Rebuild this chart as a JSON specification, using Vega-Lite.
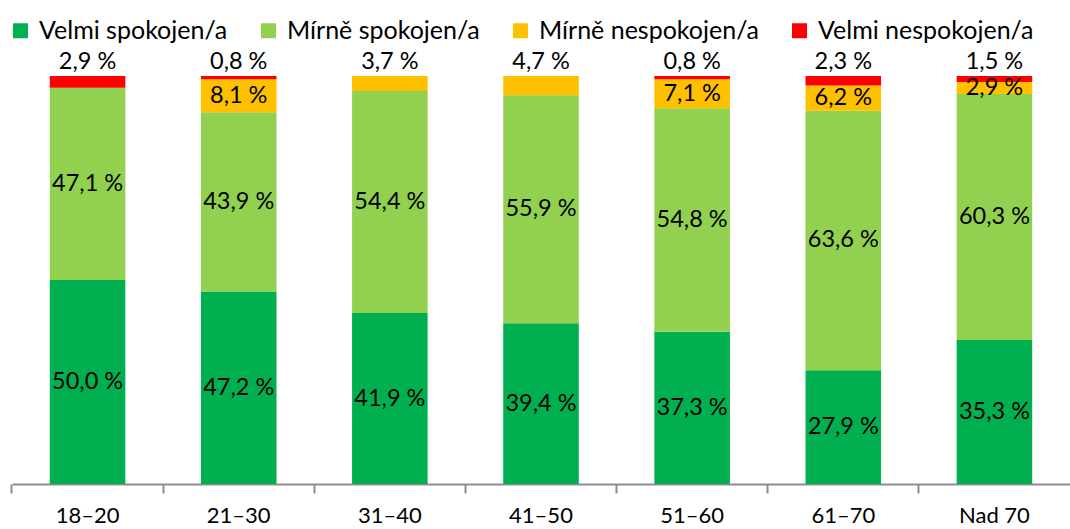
{
  "$schema": "https://vega.github.io/schema/vega-lite/v6.json",
  "width": 1058,
  "height": 408,
  "autosize": "none",
  "padding": {"left": 12, "top": 76, "right": 0, "bottom": 45},
  "background": "white",
  "config": {"view": {"stroke": null}, "font": "Lato", "legend": {"gridAlign": "each"}},
  "data": {
    "values": [
      {"vek": "18–20", "kat": "Velmi spokojen/a", "pct": 50.0},
      {"vek": "18–20", "kat": "Mírně spokojen/a", "pct": 47.1},
      {"vek": "18–20", "kat": "Velmi nespokojen/a", "pct": 2.9},
      {"vek": "21–30", "kat": "Velmi spokojen/a", "pct": 47.2},
      {"vek": "21–30", "kat": "Mírně spokojen/a", "pct": 43.9},
      {"vek": "21–30", "kat": "Mírně nespokojen/a", "pct": 8.1},
      {"vek": "21–30", "kat": "Velmi nespokojen/a", "pct": 0.8},
      {"vek": "31–40", "kat": "Velmi spokojen/a", "pct": 41.9},
      {"vek": "31–40", "kat": "Mírně spokojen/a", "pct": 54.4},
      {"vek": "31–40", "kat": "Mírně nespokojen/a", "pct": 3.7},
      {"vek": "41–50", "kat": "Velmi spokojen/a", "pct": 39.4},
      {"vek": "41–50", "kat": "Mírně spokojen/a", "pct": 55.9},
      {"vek": "41–50", "kat": "Mírně nespokojen/a", "pct": 4.7},
      {"vek": "51–60", "kat": "Velmi spokojen/a", "pct": 37.3},
      {"vek": "51–60", "kat": "Mírně spokojen/a", "pct": 54.8},
      {"vek": "51–60", "kat": "Mírně nespokojen/a", "pct": 7.1},
      {"vek": "51–60", "kat": "Velmi nespokojen/a", "pct": 0.8},
      {"vek": "61–70", "kat": "Velmi spokojen/a", "pct": 27.9},
      {"vek": "61–70", "kat": "Mírně spokojen/a", "pct": 63.6},
      {"vek": "61–70", "kat": "Mírně nespokojen/a", "pct": 6.2},
      {"vek": "61–70", "kat": "Velmi nespokojen/a", "pct": 2.3},
      {"vek": "Nad 70", "kat": "Velmi spokojen/a", "pct": 35.3},
      {"vek": "Nad 70", "kat": "Mírně spokojen/a", "pct": 60.3},
      {"vek": "Nad 70", "kat": "Mírně nespokojen/a", "pct": 2.9},
      {"vek": "Nad 70", "kat": "Velmi nespokojen/a", "pct": 1.5}
    ]
  },
  "transform": [
    {"calculate": "indexof(['Velmi spokojen/a','Mírně spokojen/a','Mírně nespokojen/a','Velmi nespokojen/a'], datum.kat)", "as": "poradi"},
    {"stack": "pct", "groupby": ["vek"], "sort": [{"field": "poradi", "order": "ascending"}], "as": ["y0", "y1"]},
    {"calculate": "(datum.y0 + datum.y1) / 2", "as": "ymid"},
    {"calculate": "replace(format(datum.pct, '.1f'), '.', ',') + ' %'", "as": "popis"},
    {"calculate": "datum.poradi == 3 || (datum.poradi == 2 && datum.y1 > 99.9) ? 1 : 0", "as": "nahore"}
  ],
  "encoding": {
    "x": {
      "field": "vek",
      "type": "nominal",
      "sort": null,
      "scale": {"paddingInner": 0.5, "paddingOuter": 0.25},
      "axis": {
        "title": null,
        "labelAngle": 0,
        "labelFontSize": 22,
        "labelColor": "black",
        "labelPadding": 12,
        "domainColor": "#8c8c8c",
        "domainWidth": 2,
        "tickColor": "#8c8c8c",
        "tickWidth": 2,
        "tickSize": 9,
        "bandPosition": -0.5
      }
    }
  },
  "layer": [
    {
      "mark": {"type": "bar"},
      "encoding": {
        "y": {"field": "y0", "type": "quantitative", "scale": {"domain": [0, 100], "nice": false}, "axis": null},
        "y2": {"field": "y1"},
        "color": {
          "field": "kat",
          "type": "nominal",
          "scale": {
            "domain": ["Velmi spokojen/a", "Mírně spokojen/a", "Mírně nespokojen/a", "Velmi nespokojen/a"],
            "range": ["#00B050", "#92D050", "#FFC000", "#FF0000"]
          },
          "legend": {
            "title": null,
            "orient": "none",
            "legendX": -4,
            "legendY": -58,
            "direction": "horizontal",
            "symbolType": "square",
            "symbolSize": 225,
            "symbolStrokeWidth": 0,
            "labelFontSize": 25,
            "labelColor": "black",
            "labelOffset": 6,
            "columnPadding": 28,
            "labelLimit": 400
          }
        }
      }
    },
    {
      "transform": [{"filter": "datum.nahore == 0"}],
      "mark": {"type": "text", "fontSize": 23.5, "color": "black", "baseline": "middle"},
      "encoding": {
        "y": {"field": "ymid", "type": "quantitative"},
        "text": {"field": "popis"}
      }
    },
    {
      "transform": [{"filter": "datum.nahore == 1"}],
      "mark": {"type": "text", "fontSize": 23.5, "color": "black", "baseline": "bottom", "dy": -2},
      "encoding": {
        "y": {"datum": 100, "type": "quantitative"},
        "text": {"field": "popis"}
      }
    }
  ]
}
